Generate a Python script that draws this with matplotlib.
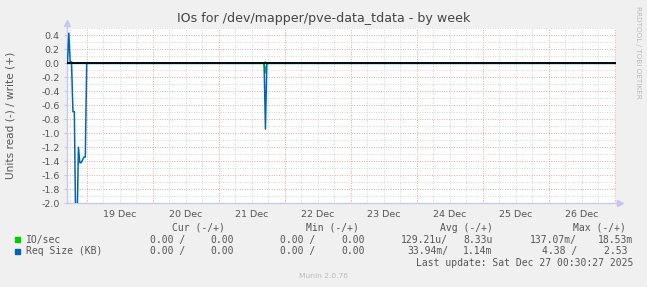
import pandas as pd
import numpy as np
import matplotlib
matplotlib.use("Agg")
import matplotlib.pyplot as plt
import matplotlib.dates as mdates
from matplotlib.patches import Rectangle
from matplotlib.ticker import MultipleLocator, FuncFormatter

#--values (30 min resolution)
start, end = "2025-12-18 16:44", "2025-12-27 00:17"

req_times = ["2025-12-18 16:30", "2025-12-18 17:00", "2025-12-18 17:30", "2025-12-18 18:00",
             "2025-12-18 18:30", "2025-12-18 19:00", "2025-12-18 19:30", "2025-12-18 20:00",
             "2025-12-18 20:30", "2025-12-18 21:00", "2025-12-18 21:30", "2025-12-18 22:00",
             "2025-12-18 22:30", "2025-12-18 23:00", "2025-12-18 23:30", "2025-12-19 00:00",
             "2025-12-21 16:30", "2025-12-21 17:00", "2025-12-21 17:30", "2025-12-27 00:30"]
req_read = [0, 0, 0, 0, 0, 0.69, 0.69, 2.3, 2.3, 1.2, 1.42, 1.42, 1.38, 1.34, 1.34, 0,
            0, 0.94, 0, 0]
req_write = [0, 0, 0.43, 0.02, 0.02, 0, 0, 0, 0, 0, 0, 0, 0, 0, 0, 0,
             0, 0, 0, 0]

io_times = ["2025-12-18 16:30", "2025-12-21 16:30", "2025-12-21 17:00", "2025-12-21 17:30",
            "2025-12-27 00:30"]
io_read = [0, 0, 0.137, 0, 0]
io_write = [0, 0, 0.0185, 0, 0]

#--legend table (munin GPRINT lines)
series_names = ["IO/sec", "Req Size (KB)"]
series_colors = ["#00CC00", "#0066B3"]
legend_cells = [
    ["0.00 /", "0.00", "0.00 /", "0.00", "129.21u/", "8.33u", "137.07m/", "18.53m"],
    ["0.00 /", "0.00", "0.00 /", "0.00", "33.94m/", "1.14m", "4.38 /", "2.53 "],
]
headers = ["Cur (-/+)", "Min (-/+)", "Avg (-/+)", "Max (-/+)"]
last_update = "Last update: Sat Dec 27 00:30:27 2025"

W, H = 647, 287
def fx(x): return x / W
def fy(y): return 1 - y / H

fig = plt.figure(figsize=(6.47, 2.87), dpi=100, facecolor="#F0F0F0")
ax = fig.add_axes([fx(66.7), fy(203.3), fx(615.5 - 66.7), (203.3 - 28.3) / H])
ax.set_facecolor("white")

rt = pd.to_datetime(req_times)
it = pd.to_datetime(io_times)
ax.plot(it, -np.array(io_read), color="#00CC00", lw=1.1, zorder=2)
ax.plot(it, np.array(io_write), color="#00CC00", lw=1.1, zorder=2)
ax.plot(rt, -np.array(req_read), color="#0066B3", lw=1.1, zorder=2.2)
ax.plot(rt, np.array(req_write), color="#0066B3", lw=1.1, zorder=2.2)
ax.axhline(0, color="black", lw=1.25, zorder=3)

ax.set_xlim(pd.Timestamp(start), pd.Timestamp(end))
ax.set_ylim(-2.0, 0.5)

ax.xaxis.set_major_locator(mdates.DayLocator())
ax.xaxis.set_major_formatter(FuncFormatter(lambda v, p: ""))
ax.xaxis.set_minor_locator(mdates.HourLocator(byhour=[6, 12, 18]))
def day_label(v, p):
    d = mdates.num2date(v)
    return d.strftime("%d Dec") if d.hour == 12 else ""
ax.xaxis.set_minor_formatter(FuncFormatter(day_label))
ax.yaxis.set_major_locator(MultipleLocator(0.2))
ax.yaxis.set_minor_locator(MultipleLocator(0.1))
ax.yaxis.set_major_formatter(FuncFormatter(lambda v, p: f"{v:.1f}"))

dots = (0, (1, 1.5))
ax.grid(which="major", color="#E4A8A8", lw=0.7, linestyle=dots)
ax.grid(which="minor", color="#D6D6D6", lw=0.7, linestyle=dots)
ax.set_axisbelow(True)

ax.tick_params(axis="x", which="both", length=0, labelsize=6.8, labelcolor="#555555", pad=5)
ax.tick_params(axis="y", which="major", length=2, color="#C8C8EE", labelsize=6.8,
               labelcolor="#555555", pad=3)
ax.tick_params(axis="y", which="minor", length=0)

for s in ["top", "right"]:
    ax.spines[s].set_visible(False)
for s in ["left", "bottom"]:
    ax.spines[s].set_color("#C8C8EE")
    ax.spines[s].set_linewidth(1.0)
    ax.spines[s].set_zorder(1.5)
# axis arrows like rrdtool
ax.plot([0, 0], [1, 1.03], color="#C8C8EE", lw=1.0, transform=ax.transAxes, clip_on=False)
ax.plot([0], [1.03], marker="^", ms=4, color="#C8C8EE", transform=ax.transAxes, clip_on=False)
ax.plot([1, 1.008], [0, 0], color="#C8C8EE", lw=1.0, transform=ax.transAxes, clip_on=False)
ax.plot([1.008], [0], marker=">", ms=4, color="#C8C8EE", transform=ax.transAxes, clip_on=False)

fig.text(0.5, fy(18.3), "IOs for /dev/mapper/pve-data_tdata - by week", ha="center",
         va="center", fontsize=9.1, color="#444444")
fig.text(fx(10.5), fy(115), "Units read (-) / write (+)", rotation=90, ha="center",
         va="center", fontsize=7.6, color="#555555")
fig.text(fx(638), fy(52), "RRDTOOL / TOBI OETIKER", rotation=270, ha="center",
         va="center", fontsize=5.2, color="#BBBBBB")

mono = "DejaVu Sans Mono"
fs = 7.05
tc = "#555555"
header_x = [172, 305.7, 440, 572.7]
cell_right = [185.7, 234, 315, 365, 448.3, 492.7, 577, 633]
for label, x in zip(headers, header_x):
    fig.text(fx(x), fy(227.7), label, ha="left", va="center", fontsize=fs,
             family=mono, color=tc)
for i, (name, col, cells) in enumerate(zip(series_names, series_colors, legend_cells)):
    y = 239.7 + i * 11.7
    fig.patches.append(Rectangle((fx(14.5), fy(y + 2.6)), fx(5.2), 5.2 / H, color=col,
                                 transform=fig.transFigure))
    fig.text(fx(26.3), fy(y), name, ha="left", va="center", fontsize=fs, family=mono,
             color=tc)
    for cell, x in zip(cells, cell_right):
        fig.text(fx(x), fy(y), cell, ha="right", va="center", fontsize=fs, family=mono,
                 color=tc)
fig.text(fx(633), fy(263), last_update, ha="right", va="center", fontsize=fs,
         family=mono, color=tc)
fig.text(0.5, fy(276), "Munin 2.0.76", ha="center", va="center", fontsize=5.4,
         color="#BBBBBB")

fig.savefig("out.png", dpi=100, facecolor=fig.get_facecolor())
